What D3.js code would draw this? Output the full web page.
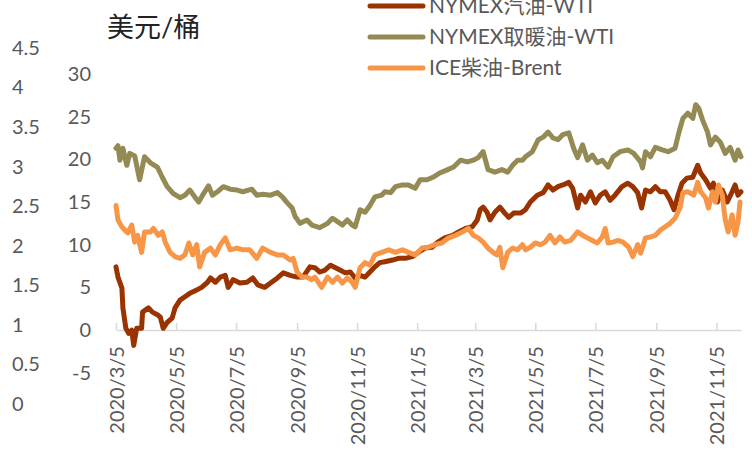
<!DOCTYPE html>
<html>
<head>
<meta charset="utf-8">
<script src="https://cdn.jsdelivr.net/npm/d3@7/dist/d3.min.js"></script>
<style>
  body { margin: 0; background: #fff; }
  svg text { font-family: Lato, "Noto Sans CJK SC", sans-serif; fill: #595959; }
</style>
</head>
<body>
<svg id="chart" width="752" height="452"></svg>
<script>
// series names, in drawing order
var seriesNames = ["NYMEX汽油-WTI", "NYMEX取暖油-WTI", "ICE柴油-Brent"];
var seriesColors = ["#993300", "#948A54", "#F79646"];

// NYMEX gasoline crack (USD/bbl)
var gasoline = [
  ["2020-03-05", 7.4], ["2020-03-07", 6.2], ["2020-03-11", 4.9], ["2020-03-12", 2.6], ["2020-03-15", 0.2],
  ["2020-03-18", -0.4], ["2020-03-21", 0.0], ["2020-03-23", -1.8], ["2020-03-26", 0.2], ["2020-03-31", 0.2],
  ["2020-04-01", 2.1], ["2020-04-07", 2.6], ["2020-04-11", 2.1], ["2020-04-16", 1.8], ["2020-04-19", 1.5],
  ["2020-04-22", 0.2], ["2020-04-26", 0.9], ["2020-05-01", 1.4], ["2020-05-04", 2.6], ["2020-05-09", 3.5],
  ["2020-05-14", 3.9], ["2020-05-19", 4.3], ["2020-05-26", 4.7], ["2020-05-31", 5.0], ["2020-06-06", 5.6],
  ["2020-06-09", 6.1], ["2020-06-14", 5.6], ["2020-06-19", 6.2], ["2020-06-24", 6.4], ["2020-06-27", 5.0],
  ["2020-07-02", 5.9], ["2020-07-09", 5.5], ["2020-07-16", 5.6], ["2020-07-22", 6.1], ["2020-07-27", 5.3],
  ["2020-08-03", 5.0], ["2020-08-09", 5.5], ["2020-08-16", 6.1], ["2020-08-22", 6.7], ["2020-08-29", 6.4],
  ["2020-09-05", 6.2], ["2020-09-11", 6.2], ["2020-09-18", 7.4], ["2020-09-23", 7.3], ["2020-09-28", 6.8],
  ["2020-10-03", 7.0], ["2020-10-09", 7.6], ["2020-10-14", 7.3], ["2020-10-19", 7.0], ["2020-10-24", 6.7],
  ["2020-10-29", 6.8], ["2020-11-03", 6.1], ["2020-11-08", 6.4], ["2020-11-13", 6.2], ["2020-11-18", 6.8],
  ["2020-11-23", 7.4], ["2020-11-28", 7.9], ["2020-12-03", 8.0], ["2020-12-11", 8.2], ["2020-12-17", 8.4],
  ["2020-12-24", 8.4], ["2020-12-31", 8.6], ["2021-01-06", 9.1], ["2021-01-13", 9.6], ["2021-01-20", 9.7],
  ["2021-01-26", 10.3], ["2021-02-02", 10.8], ["2021-02-10", 11.1], ["2021-02-16", 11.5], ["2021-02-23", 11.9],
  ["2021-03-02", 12.1], ["2021-03-07", 12.9], ["2021-03-10", 14.1], ["2021-03-13", 14.4], ["2021-03-17", 13.8],
  ["2021-03-20", 12.9], ["2021-03-25", 13.8], ["2021-03-30", 14.4], ["2021-04-04", 13.7], ["2021-04-08", 13.2],
  ["2021-04-13", 13.7], ["2021-04-20", 13.7], ["2021-04-25", 14.1], ["2021-04-30", 15.0], ["2021-05-07", 15.8],
  ["2021-05-13", 16.1], ["2021-05-18", 17.0], ["2021-05-23", 16.4], ["2021-05-28", 16.8], ["2021-06-02", 17.0],
  ["2021-06-08", 17.3], ["2021-06-12", 16.6], ["2021-06-17", 14.3], ["2021-06-20", 15.8], ["2021-06-25", 15.0],
  ["2021-06-30", 16.2], ["2021-07-05", 14.9], ["2021-07-10", 15.8], ["2021-07-15", 16.2], ["2021-07-20", 15.2],
  ["2021-07-25", 15.8], ["2021-08-01", 16.8], ["2021-08-07", 17.2], ["2021-08-12", 16.8], ["2021-08-17", 16.1],
  ["2021-08-21", 14.3], ["2021-08-25", 16.4], ["2021-08-30", 16.2], ["2021-09-04", 16.8], ["2021-09-09", 16.2],
  ["2021-09-14", 16.2], ["2021-09-19", 15.2], ["2021-09-23", 14.1], ["2021-09-27", 15.8], ["2021-10-01", 17.2],
  ["2021-10-06", 17.8], ["2021-10-12", 17.9], ["2021-10-17", 19.3], ["2021-10-20", 18.4], ["2021-10-25", 17.6],
  ["2021-10-30", 16.6], ["2021-11-02", 17.2], ["2021-11-06", 15.0], ["2021-11-11", 16.4], ["2021-11-16", 15.0],
  ["2021-11-21", 16.2], ["2021-11-24", 17.0], ["2021-11-27", 15.8], ["2021-11-30", 16.2]
];

// NYMEX heating oil crack
var heatingOil = [
  ["2020-03-05", 21.3], ["2020-03-07", 21.6], ["2020-03-09", 19.9], ["2020-03-12", 21.3], ["2020-03-16", 19.3],
  ["2020-03-19", 20.7], ["2020-03-24", 20.4], ["2020-03-29", 17.6], ["2020-04-03", 20.3], ["2020-04-09", 19.6],
  ["2020-04-16", 19.1], ["2020-04-21", 17.9], ["2020-04-26", 16.8], ["2020-05-02", 16.0], ["2020-05-09", 15.5],
  ["2020-05-14", 15.8], ["2020-05-19", 16.4], ["2020-05-24", 15.6], ["2020-05-28", 15.0], ["2020-06-01", 15.8],
  ["2020-06-07", 16.9], ["2020-06-11", 15.8], ["2020-06-16", 16.2], ["2020-06-22", 16.8], ["2020-06-29", 16.5],
  ["2020-07-06", 16.4], ["2020-07-12", 16.2], ["2020-07-21", 16.5], ["2020-07-26", 15.8], ["2020-08-01", 15.9],
  ["2020-08-09", 15.8], ["2020-08-16", 16.1], ["2020-08-21", 15.6], ["2020-08-26", 14.9], ["2020-08-31", 14.3],
  ["2020-09-03", 13.3], ["2020-09-08", 12.5], ["2020-09-15", 12.9], ["2020-09-20", 12.3], ["2020-09-28", 12.0],
  ["2020-10-06", 12.5], ["2020-10-11", 13.1], ["2020-10-16", 12.7], ["2020-10-21", 12.3], ["2020-10-26", 12.9],
  ["2020-10-31", 12.3], ["2020-11-03", 12.1], ["2020-11-08", 14.1], ["2020-11-13", 13.8], ["2020-11-18", 14.6],
  ["2020-11-23", 15.6], ["2020-11-30", 15.8], ["2020-12-03", 16.2], ["2020-12-09", 16.1], ["2020-12-14", 16.8],
  ["2020-12-21", 17.0], ["2020-12-27", 17.0], ["2021-01-03", 16.6], ["2021-01-08", 17.6], ["2021-01-15", 17.6],
  ["2021-01-21", 17.9], ["2021-01-28", 18.4], ["2021-02-05", 18.8], ["2021-02-11", 19.1], ["2021-02-18", 19.9],
  ["2021-02-25", 19.7], ["2021-03-03", 19.9], ["2021-03-08", 20.2], ["2021-03-13", 20.9], ["2021-03-18", 18.8],
  ["2021-03-25", 18.5], ["2021-04-01", 18.8], ["2021-04-07", 18.5], ["2021-04-12", 19.3], ["2021-04-17", 19.9],
  ["2021-04-22", 19.9], ["2021-04-25", 20.3], ["2021-05-02", 20.9], ["2021-05-08", 22.3], ["2021-05-13", 22.6],
  ["2021-05-18", 23.2], ["2021-05-23", 22.5], ["2021-05-28", 22.3], ["2021-06-02", 22.9], ["2021-06-08", 23.1],
  ["2021-06-13", 21.3], ["2021-06-17", 20.2], ["2021-06-22", 21.7], ["2021-06-27", 19.9], ["2021-07-02", 20.5],
  ["2021-07-07", 19.6], ["2021-07-12", 19.9], ["2021-07-18", 19.1], ["2021-07-23", 20.3], ["2021-07-30", 20.9],
  ["2021-08-07", 21.1], ["2021-08-13", 20.7], ["2021-08-20", 19.7], ["2021-08-22", 19.0], ["2021-08-25", 20.9],
  ["2021-08-30", 20.3], ["2021-09-04", 21.4], ["2021-09-11", 21.1], ["2021-09-17", 20.9], ["2021-09-24", 21.3],
  ["2021-09-28", 23.2], ["2021-10-02", 24.8], ["2021-10-07", 25.4], ["2021-10-12", 24.8], ["2021-10-15", 26.4],
  ["2021-10-18", 26.0], ["2021-10-22", 24.6], ["2021-10-27", 23.2], ["2021-10-30", 21.7], ["2021-11-04", 22.6],
  ["2021-11-09", 22.0], ["2021-11-14", 20.7], ["2021-11-19", 21.4], ["2021-11-24", 19.9], ["2021-11-27", 21.1],
  ["2021-11-30", 20.3]
];

// ICE gasoil vs Brent
var iceGasoil = [
  ["2020-03-05", 14.6], ["2020-03-07", 12.9], ["2020-03-11", 12.1], ["2020-03-14", 11.7], ["2020-03-17", 11.4],
  ["2020-03-21", 12.3], ["2020-03-24", 10.3], ["2020-03-27", 11.1], ["2020-03-31", 9.1], ["2020-04-03", 11.5],
  ["2020-04-09", 11.5], ["2020-04-12", 11.9], ["2020-04-17", 11.1], ["2020-04-21", 11.5], ["2020-04-24", 10.3],
  ["2020-04-29", 9.1], ["2020-05-04", 8.6], ["2020-05-09", 8.4], ["2020-05-14", 8.8], ["2020-05-18", 10.2],
  ["2020-05-22", 8.8], ["2020-05-26", 10.0], ["2020-05-29", 7.4], ["2020-06-03", 9.1], ["2020-06-09", 9.6],
  ["2020-06-14", 8.8], ["2020-06-19", 10.0], ["2020-06-24", 10.8], ["2020-06-29", 9.4], ["2020-07-06", 9.6],
  ["2020-07-12", 9.4], ["2020-07-19", 9.4], ["2020-07-26", 8.4], ["2020-08-01", 9.6], ["2020-08-09", 9.1],
  ["2020-08-16", 8.8], ["2020-08-22", 8.8], ["2020-08-29", 8.2], ["2020-09-01", 8.4], ["2020-09-05", 6.8],
  ["2020-09-10", 6.2], ["2020-09-15", 6.2], ["2020-09-20", 5.9], ["2020-09-23", 6.2], ["2020-09-30", 5.0],
  ["2020-10-06", 6.2], ["2020-10-11", 5.6], ["2020-10-16", 6.2], ["2020-10-21", 5.5], ["2020-10-26", 6.1],
  ["2020-10-31", 5.6], ["2020-11-03", 5.0], ["2020-11-08", 7.3], ["2020-11-13", 7.9], ["2020-11-18", 7.6],
  ["2020-11-23", 8.8], ["2020-11-30", 9.1], ["2020-12-07", 9.4], ["2020-12-14", 9.1], ["2020-12-21", 9.4],
  ["2020-12-27", 9.1], ["2021-01-03", 8.8], ["2021-01-10", 9.6], ["2021-01-16", 9.7], ["2021-01-23", 10.0],
  ["2021-01-30", 10.2], ["2021-02-06", 10.8], ["2021-02-13", 11.1], ["2021-02-20", 11.5], ["2021-02-26", 11.9],
  ["2021-03-03", 11.1], ["2021-03-08", 10.8], ["2021-03-13", 10.3], ["2021-03-18", 9.6], ["2021-03-23", 9.1],
  ["2021-03-27", 8.8], ["2021-03-30", 9.7], ["2021-04-02", 7.3], ["2021-04-07", 9.1], ["2021-04-12", 9.6],
  ["2021-04-17", 9.4], ["2021-04-22", 10.0], ["2021-04-25", 9.4], ["2021-04-30", 9.7], ["2021-05-05", 10.2],
  ["2021-05-10", 10.0], ["2021-05-15", 10.3], ["2021-05-20", 11.1], ["2021-05-25", 10.2], ["2021-05-30", 10.9],
  ["2021-06-04", 10.3], ["2021-06-10", 10.5], ["2021-06-17", 11.5], ["2021-06-22", 11.1], ["2021-06-27", 10.8],
  ["2021-07-02", 10.5], ["2021-07-07", 10.2], ["2021-07-12", 10.9], ["2021-07-15", 11.9], ["2021-07-18", 10.2],
  ["2021-07-23", 10.3], ["2021-07-28", 10.5], ["2021-08-02", 10.3], ["2021-08-08", 9.7], ["2021-08-12", 8.6],
  ["2021-08-17", 10.0], ["2021-08-20", 9.0], ["2021-08-25", 10.8], ["2021-08-30", 10.9], ["2021-09-04", 11.1],
  ["2021-09-09", 11.7], ["2021-09-14", 12.1], ["2021-09-19", 12.5], ["2021-09-24", 13.1], ["2021-09-29", 14.3],
  ["2021-10-02", 16.1], ["2021-10-07", 16.2], ["2021-10-13", 15.8], ["2021-10-17", 17.3], ["2021-10-20", 16.2],
  ["2021-10-25", 15.5], ["2021-10-28", 14.3], ["2021-11-01", 16.2], ["2021-11-04", 15.0], ["2021-11-07", 17.0],
  ["2021-11-11", 15.8], ["2021-11-14", 12.9], ["2021-11-17", 11.5], ["2021-11-21", 13.5], ["2021-11-24", 11.1],
  ["2021-11-27", 12.7], ["2021-11-29", 15.0]
];

var xTickLabels = ["2020-03-05", "2020-05-05", "2020-07-05", "2020-09-05", "2020-11-05", "2021-01-05",
                   "2021-03-05", "2021-05-05", "2021-07-05", "2021-09-05", "2021-11-05"];
var yTicks = [-5, 0, 5, 10, 15, 20, 25, 30];
var yOuterTicks = [0, 0.5, 1, 1.5, 2, 2.5, 3, 3.5, 4, 4.5];
var xDomain = ["2020-03-05", "2021-11-30"];
var unitLabel = "美元/桶";

var parse = d3.timeParse("%Y-%m-%d");
var fmt = d3.timeFormat("%Y/%-m/%-d");

var svg = d3.select("#chart");

var x = d3.scaleTime().domain(xDomain.map(parse)).range([116, 741]);
var y = d3.scaleLinear().domain([-5, 30]).range([372.7, 74]);
var yOuter = d3.scaleLinear().domain([0, 4.5]).range([404, 48]);

// outer (secondary) value axis, far left
var gOuter = svg.append("g")
  .attr("transform", "translate(12,0)")
  .call(d3.axisLeft(yOuter).tickValues(yOuterTicks).tickSize(0).tickPadding(0).tickFormat(function (d) { return String(d); }));
gOuter.select(".domain").remove();
gOuter.selectAll("text").attr("text-anchor", "start").attr("x", 0)
  .style("font-size", "20px").style("fill", "#595959");

// main value axis
var gY = svg.append("g")
  .attr("transform", "translate(91,0)")
  .call(d3.axisLeft(y).tickValues(yTicks).tickSize(0).tickPadding(0).tickFormat(function (d) { return String(d); }));
gY.select(".domain").remove();
gY.selectAll("text").style("font-size", "20px").style("fill", "#595959");

// date axis at zero
var gX = svg.append("g")
  .attr("transform", "translate(0," + y(0) + ")")
  .call(d3.axisBottom(x).tickValues(xTickLabels.map(parse)).tickSizeInner(-7).tickSizeOuter(0).tickFormat(fmt));
gX.select(".domain").attr("stroke", "#d9d9d9").attr("stroke-width", 1.5);
gX.selectAll(".tick line").attr("stroke", "#d9d9d9").attr("stroke-width", 1.5);
gX.selectAll("text")
  .attr("transform", "rotate(-90)")
  .attr("text-anchor", "end")
  .attr("x", -16)
  .attr("y", 0)
  .attr("dy", "0.35em")
  .style("font-size", "20px").style("fill", "#595959");

var line = d3.line()
  .x(function (d) { return x(parse(d[0])); })
  .y(function (d) { return y(d[1]); });

var allSeries = [gasoline, heatingOil, iceGasoil];

svg.selectAll(".series")
  .data(allSeries)
  .enter()
  .append("path")
  .attr("class", "series")
  .attr("fill", "none")
  .attr("stroke", function (d, i) { return seriesColors[i]; })
  .attr("stroke-width", 5)
  .attr("stroke-linejoin", "round")
  .attr("stroke-linecap", "round")
  .attr("d", line);

// unit label
svg.append("text")
  .attr("x", 107)
  .attr("y", 37)
  .style("font-size", "27px")
  .style("fill", "#222")
  .text(unitLabel);

// legend (top row is clipped by the top edge, as in the original)
var legend = svg.selectAll(".legend")
  .data(seriesNames)
  .enter()
  .append("g")
  .attr("class", "legend")
  .attr("transform", function (d, i) { return "translate(370," + (6 + i * 31) + ")"; });

legend.append("line")
  .attr("x1", 0).attr("x2", 53)
  .attr("stroke", function (d, i) { return seriesColors[i]; })
  .attr("stroke-width", 5)
  .attr("stroke-linecap", "round");

legend.append("text")
  .attr("x", 59)
  .attr("dy", "0.35em")
  .style("font-size", "21px")
  .text(function (d) { return d; });
</script>
</body>
</html>
